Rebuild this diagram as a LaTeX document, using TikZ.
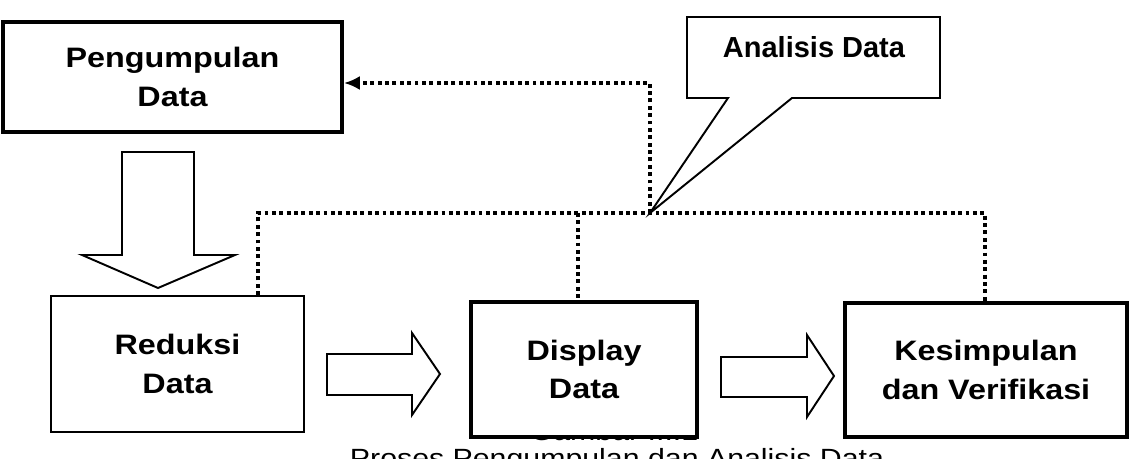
\documentclass[tikz,border=0pt]{standalone}
\usepackage{fontspec}
\setmainfont{Liberation Sans}
\newfontfamily\boxfont{Liberation Sans}[FakeStretch=1.15]
\usetikzlibrary{arrows.meta}

\tikzset{
  stage/.style={draw, line width=2.3pt, fill=white, align=center, inner sep=0pt,
    font=\boxfont\bfseries\fontsize{16}{22}\selectfont},
  thinstage/.style={stage, line width=1.1pt},
  blockarrow/.style={draw, line width=1.1pt, fill=white, line join=miter},
  dotline/.style={line width=2pt, dash pattern=on 2.2pt off 2pt},
  captext/.style={anchor=base, inner sep=0pt, font=\boxfont\fontsize{15}{18}\selectfont}
}

\begin{document}
\begin{tikzpicture}[x=0.02cm, y=-0.02cm]
    \useasboundingbox (0,0) rectangle (1147,459);

    % caption, partly hidden
    \node[captext] (capa) at (614,440) {Gambar III.1};
    \node[captext] (capb) at (617,467) {Proses Pengumpulan dan Analisis Data};

    % stages
    \node[stage, minimum width=6.78cm, minimum height=2.2cm] (peng) at (172.5,77) {Pengumpulan\\Data};
    \node[thinstage, minimum width=5.06cm, minimum height=2.72cm] (red) at (177.5,364) {Reduksi\\Data};
    \node[stage, minimum width=4.52cm, minimum height=2.7cm] (disp) at (584,369.5) {Display\\Data};
    \node[stage, minimum width=5.64cm, minimum height=2.68cm] (kes) at (986,370) {Kesimpulan\\dan Verifikasi};

    % block arrows
    \draw[blockarrow] (122,152) -- (194,152) -- (194,255) -- (235,255) -- (158,288)
        -- (82,255) -- (122,255) -- cycle;
    \draw[blockarrow] (327,354) -- (412,354) -- (412,333) -- (440,374) -- (412,415)
        -- (412,395) -- (327,395) -- cycle;
    \draw[blockarrow] (721,357) -- (807,357) -- (807,335) -- (834,376) -- (807,417)
        -- (807,397) -- (721,397) -- cycle;

    % analisis
    \coordinate (hub) at (650,213);
    \coordinate (lft) at (258,213);
    \coordinate (mid) at (578,213);
    \coordinate (rgt) at (985,213);
    \coordinate (bend) at (650,83);

    \draw[line width=1.1pt, fill=white] (687,17) -- (940,17) -- (940,98) -- (792,98)
        -- (hub) -- (728,98) -- (687,98) -- cycle;
    \node[font=\bfseries\fontsize{16.5}{20}\selectfont] (ana) at (814,47) {Analisis Data};

    \draw[dotline] (lft |- red.north) -- (lft) -- (rgt) -- (rgt |- kes.north);
    \draw[dotline] (mid) -- (mid |- disp.north);
    \draw[dotline, -{Latex[length=9pt, width=8pt]}] (hub) -- (bend) -- (bend -| peng.east);
\end{tikzpicture}
\end{document}
